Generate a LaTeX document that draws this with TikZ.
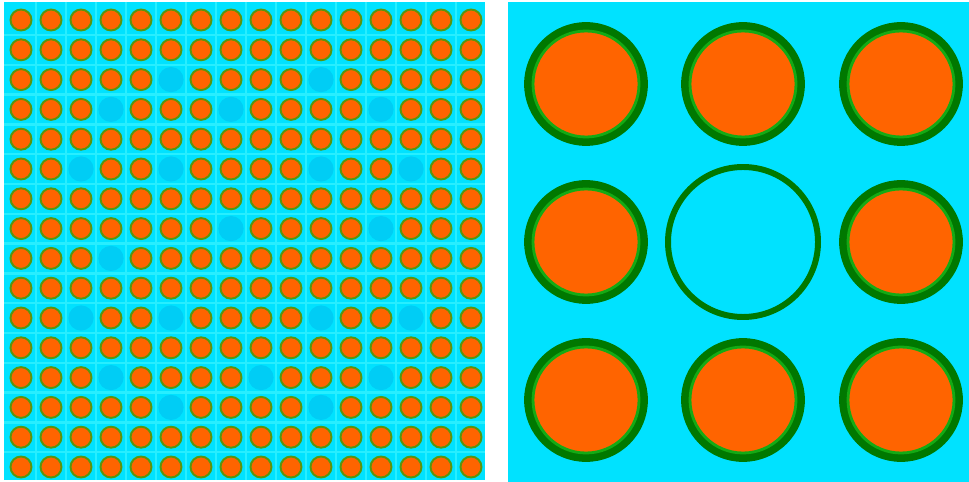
\documentclass[tikz,border=0pt]{standalone}
\usepackage{xcolor}
\usepackage{tikz}
\definecolor{WaterCyan}{RGB}{0,226,255}
\definecolor{WaterLight}{RGB}{40,238,255}
\definecolor{WaterDark}{RGB}{0,205,245}
\definecolor{FuelOrange}{RGB}{255,100,0}
\definecolor{CladGreen}{RGB}{0,120,0}
\definecolor{CladLight}{RGB}{20,170,20}
\tikzset{
  % fascio completo (pannello sinistro)
  rod small/.style={fill=FuelOrange,draw=CladLight!70!FuelOrange,line width=1.1pt},
  guide small/.style={fill=WaterDark},
  % dettaglio 3x3 (pannello destro)
  rod big/.style={fill=FuelOrange,draw=CladGreen,line width=5pt},
  rod big inner/.style={draw=CladLight,line width=1.6pt},
  guide big/.style={draw=CladGreen,line width=3.4pt}
}
\begin{document}
\begin{tikzpicture}[x=0.02cm,y=-0.02cm]
    \fill[white] (0,0) rectangle (969,482);
    % left panel: 16x16 bundle
    \fill[WaterCyan] (4,2) rectangle (485,480);
    \foreach \c in {0,...,14}
      \draw[WaterLight,line width=1.4pt] ({36+30*\c},2)--({36+30*\c},480);
    \foreach \r in {0,...,14}
      \draw[WaterLight,line width=1.4pt] (4,{35+29.8*\r})--(485,{35+29.8*\r});
    \foreach \r in {0,...,15}
      \foreach \c in {0,...,15}
        \path[rod small] ({21+30*\c},{20+29.8*\r}) circle (10.5);
    % guide tubes
    \foreach \r/\c in {2/5,2/10,3/3,3/7,3/12,5/2,5/5,5/10,5/13,7/7,7/12,8/3,
                       10/2,10/5,10/10,10/13,12/3,12/8,12/12,13/5,13/10}
      \path[guide small] ({21+30*\c},{20+29.8*\r}) circle (12.6);
    % right panel: 3x3 detail
    \fill[WaterCyan] (508,2) rectangle (969,482);
    \foreach \x/\y in {586/84,743/84,901/84,586/242,901/242,586/400,743/400,901/400}{
      \path[rod big] (\x,\y) circle (57.5);
      \draw[rod big inner] (\x,\y) circle (53);
    }
    \draw[guide big] (743,242) circle (75);
  \end{tikzpicture}
\end{document}
